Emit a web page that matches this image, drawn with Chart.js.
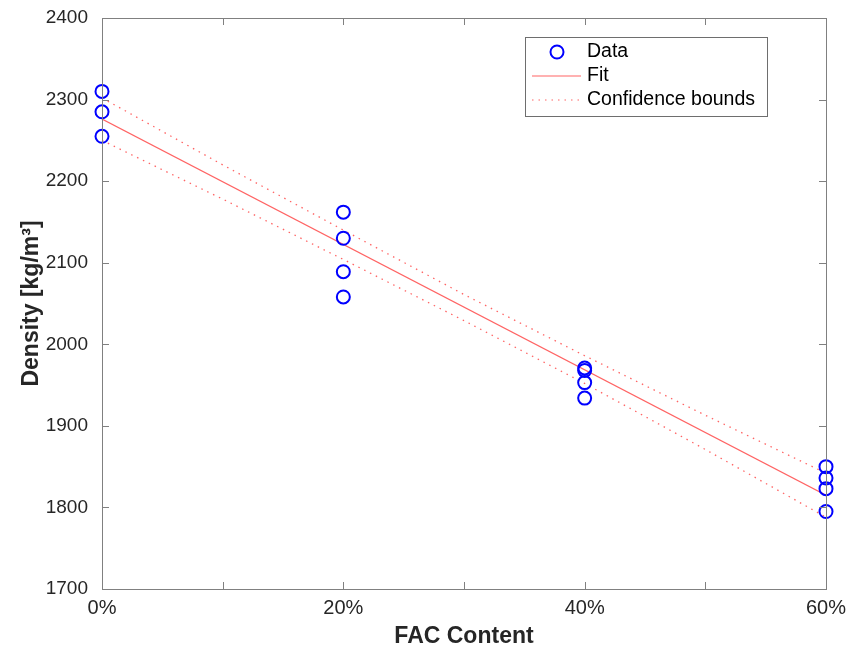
<!DOCTYPE html>
<html>
<head>
<meta charset="utf-8">
<script src="https://cdn.jsdelivr.net/npm/chart.js@4.4.0/dist/chart.umd.min.js"></script>
<style>
  html, body { margin: 0; padding: 0; background: #fff; }
  #wrap { width: 851px; height: 652px; }
</style>
</head>
<body>
<div id="wrap"><canvas id="chart" width="851" height="652"></canvas></div>
<script>
// measured samples
const facContent = [0, 0, 0, 20, 20, 20, 20, 40, 40, 40, 40, 60, 60, 60, 60];
const density = [2310, 2285, 2255, 2162, 2130, 2089, 2058, 1971, 1968, 1953, 1934, 1850, 1836, 1823, 1795];

// linear fit and confidence bounds
const fitX = [0, 60];
const fitY = [2276, 1815];
const boundX = [0, 10, 20, 30, 40, 50, 60];
const upperBound = [2302, 2220, 2140, 2061, 1986, 1913, 1842];
const lowerBound = [2250, 2178, 2104, 2029, 1952, 1871, 1788];

const xTicks = [0, 10, 20, 30, 40, 50, 60];
const yTicks = [1700, 1800, 1900, 2000, 2100, 2200, 2300, 2400];

const FONT = "'Liberation Sans', Arial, Helvetica, sans-serif";
const axisGray = 'rgb(128,128,128)';
const textCol = '#262626';
const fitCol = 'rgb(255,100,100)';

const toPts = (xs, ys) => xs.map((x, i) => ({ x: x, y: ys[i] }));

// MATLAB-style box with inward ticks + legend
const boxPlugin = {
    id: 'boxPlugin',
    afterDraw(chart) {
        const ctx = chart.ctx;
        const a = chart.chartArea;
        const xs = chart.scales.x, ys = chart.scales.y;
        const tl = 7;
        ctx.save();
        ctx.strokeStyle = axisGray;
        ctx.lineWidth = 1;
        ctx.strokeRect(a.left + 0.5, a.top + 0.5, a.right - a.left, a.bottom - a.top);
        ctx.beginPath();
        xTicks.forEach(v => {
            const px = Math.round(xs.getPixelForValue(v)) + 0.5;
            ctx.moveTo(px, a.bottom); ctx.lineTo(px, a.bottom - tl);
            ctx.moveTo(px, a.top); ctx.lineTo(px, a.top + tl);
        });
        yTicks.forEach(v => {
            const py = Math.round(ys.getPixelForValue(v)) + 0.5;
            ctx.moveTo(a.left, py); ctx.lineTo(a.left + tl, py);
            ctx.moveTo(a.right, py); ctx.lineTo(a.right - tl, py);
        });
        ctx.stroke();

        // legend
        const lx = 525, ly = 37, lw = 242, lh = 79;
        ctx.fillStyle = '#fff';
        ctx.fillRect(lx, ly, lw, lh);
        ctx.strokeStyle = 'rgb(110,110,110)';
        ctx.strokeRect(lx + 0.5, ly + 0.5, lw, lh);
        ctx.font = '19.5px ' + FONT;
        ctx.fillStyle = '#000';
        ctx.textBaseline = 'middle';
        const rows = [52, 76, 100];
        ctx.fillText('Data', 587, rows[0]);
        ctx.fillText('Fit', 587, rows[1]);
        ctx.fillText('Confidence bounds', 587, rows[2]);
        ctx.strokeStyle = '#0000ff';
        ctx.lineWidth = 2;
        ctx.beginPath();
        ctx.arc(557, rows[0], 6.5, 0, Math.PI * 2);
        ctx.stroke();
        ctx.strokeStyle = fitCol;
        ctx.lineWidth = 1.2;
        ctx.beginPath();
        ctx.moveTo(532, rows[1]); ctx.lineTo(581, rows[1]);
        ctx.stroke();
        ctx.setLineDash([1.5, 5]);
        ctx.beginPath();
        ctx.moveTo(532, rows[2]); ctx.lineTo(581, rows[2]);
        ctx.stroke();
        ctx.restore();
    }
};

new Chart(document.getElementById('chart'), {
    type: 'scatter',
    data: {
        datasets: [
            {
                label: 'Data',
                data: toPts(facContent, density),
                showLine: false,
                pointStyle: 'circle',
                pointRadius: 6.5,
                pointBorderWidth: 2,
                borderColor: '#0000ff',
                backgroundColor: 'rgba(0,0,0,0)',
                clip: false,
                order: 0
            },
            {
                label: 'Fit',
                data: toPts(fitX, fitY),
                showLine: true,
                borderColor: fitCol,
                borderWidth: 1.2,
                pointRadius: 0,
                order: 1
            },
            {
                label: 'Confidence bounds',
                data: toPts(boundX, upperBound),
                showLine: true,
                borderColor: fitCol,
                borderWidth: 1.3,
                borderDash: [1.5, 5],
                pointRadius: 0,
                order: 2
            },
            {
                label: 'Lower bound',
                data: toPts(boundX, lowerBound),
                showLine: true,
                borderColor: fitCol,
                borderWidth: 1.3,
                borderDash: [1.5, 5],
                pointRadius: 0,
                order: 2
            }
        ]
    },
    options: {
        responsive: false,
        animation: false,
        layout: { padding: { top: 18, right: 25, bottom: 0, left: 0 } },
        plugins: {
            legend: { display: false },
            tooltip: { enabled: false }
        },
        scales: {
            x: {
                type: 'linear',
                min: 0,
                max: 60,
                afterBuildTicks: s => { s.ticks = xTicks.map(v => ({ value: v })); },
                afterFit: s => { s.height = 63; s.paddingLeft = 0; s.paddingRight = 0; },
                grid: { display: false, drawTicks: false },
                border: { display: false },
                ticks: {
                    padding: 7,
                    color: textCol,
                    font: { family: FONT, size: 20 },
                    maxRotation: 0,
                    callback: v => (v % 20 === 0 ? v + '%' : '')
                },
                title: {
                    display: true,
                    text: 'FAC Content',
                    color: textCol,
                    font: { family: FONT, size: 23, weight: 'bold' },
                    padding: { top: 0, bottom: 2 }
                }
            },
            y: {
                min: 1700,
                max: 2400,
                afterBuildTicks: s => { s.ticks = yTicks.map(v => ({ value: v })); },
                afterFit: s => { s.width = 102; s.paddingTop = 0; s.paddingBottom = 0; },
                grid: { display: false, drawTicks: false },
                border: { display: false },
                ticks: {
                    padding: 14,
                    color: textCol,
                    font: { family: FONT, size: 19 },
                    callback: v => String(v)
                },
                title: {
                    display: true,
                    text: 'Density [kg/m³]',
                    color: textCol,
                    font: { family: FONT, size: 23, weight: 'bold' },
                    padding: { top: 18, bottom: 0 }
                }
            }
        }
    },
    plugins: [boxPlugin]
});
</script>
</body>
</html>
